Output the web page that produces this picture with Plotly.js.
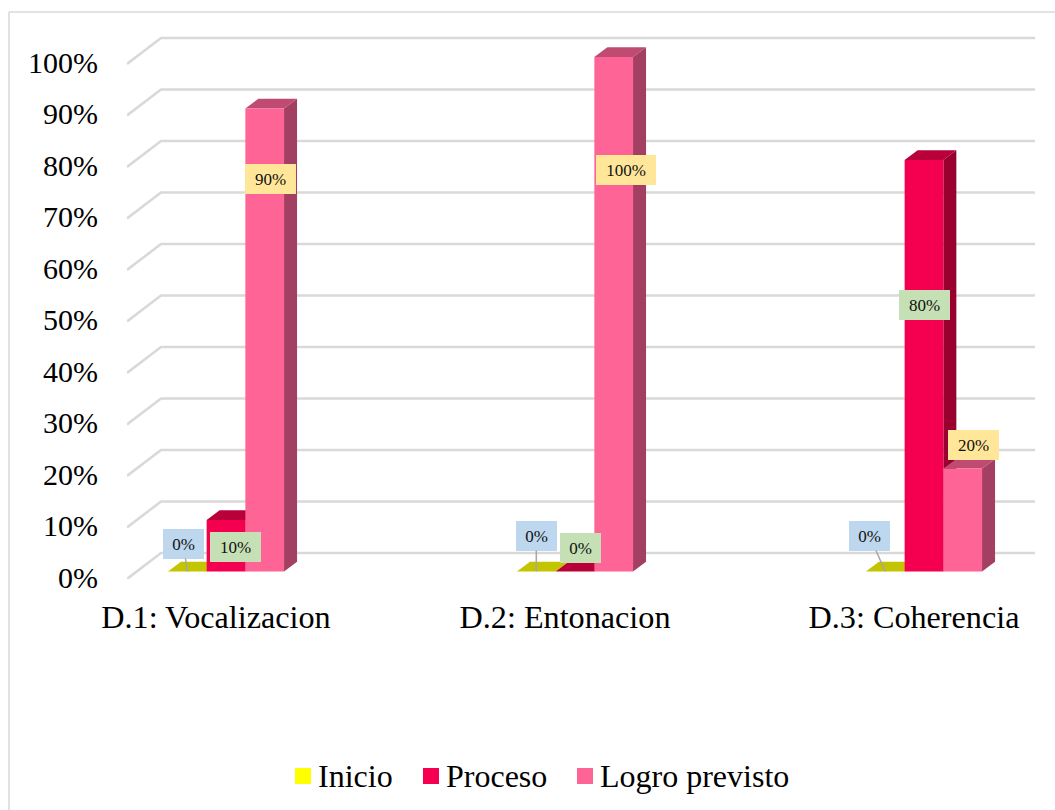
<!DOCTYPE html>
<html><head><meta charset="utf-8">
<script src="https://cdn.plot.ly/plotly-3.0.1.min.js"></script>
<style>html,body{margin:0;padding:0;background:#fff;overflow:hidden}#c{width:1055px;height:810px}</style>
</head><body><div id="c"></div>
<script>
const categories = ["D.1: Vocalizacion", "D.2: Entonacion", "D.3: Coherencia"];
const inicio = [0, 0, 0];
const proceso = [10, 0, 80];
const logro = [90, 100, 20];
const yTicks = [0, 10, 20, 30, 40, 50, 60, 70, 80, 90, 100];

const seriesList = [
  {name: "Inicio", values: inicio, front: "#FFFF00", top: "#C4C400", side: "#A0A000", box: "#BDD7EE", keyLeft: 295},
  {name: "Proceso", values: proceso, front: "#F50050", top: "#B80039", side: "#99002F", box: "#C5E0B4", keyLeft: 423},
  {name: "Logro previsto", values: logro, front: "#FF6496", top: "#BF4B72", side: "#A33F62", box: "#FFE699", keyLeft: 577}
];

// geometry, in pixels of the page
const W = 1055, H = 810;
const plotL = 127, plotR = 1035, plotT = 30, plotB = 579;
const catStep = 349, barPx = 38.7;
const labelCentre0 = 216, barCentre0 = 226;
const frameYPx = 5.15, barYPx = 5.145, barZeroPx = 571.5;
const wallDx = 34, wallDy = 26, barDx = 13, barDy = 9.7;
const tickLabelLift = 0.3;

const xRange = c => [(plotL - c) / catStep, (plotR - c) / catStep];
const frameX = xRange(labelCentre0), barX = xRange(barCentre0);
const frameY = [0, (plotB - plotT) / frameYPx];
const barY = [(barZeroPx - plotB) / barYPx, (barZeroPx - plotT) / barYPx];

const ids = categories.map((_, i) => i);
const barW = barPx / catStep, depthX = barDx / catStep, depthY = barDy / barYPx;
const traces = [];

// back wall and side wall gridlines
const gx = [], gy = [];
yTicks.forEach(t => {
  gx.push(frameX[0], frameX[0] + wallDx / catStep, frameX[1], null);
  gy.push(t, t + wallDy / frameYPx, t + wallDy / frameYPx, null);
});
traces.push({type: "scatter", mode: "lines", x: gx, y: gy, xaxis: "x", yaxis: "y", showlegend: false, hoverinfo: "skip",
  line: {color: "#D9D9D9", width: 2.6}, connectgaps: false});
seriesList.forEach((s, k) => {
  const sx = [], sy = [], tx = [], ty = [];
  ids.forEach(i => {
    const r = i + (k - 1) * barW + barW / 2, l = r - barW, v = s.values[i];
    sx.push(r, r + depthX, r + depthX, r, r, null);
    sy.push(0, depthY, v + depthY, v, 0, null);
    tx.push(l, r, r + depthX, l + depthX, l, null);
    ty.push(v, v, v + depthY, v + depthY, v, null);
  });
  [[sx, sy, s.side], [tx, ty, s.top]].forEach(f => traces.push({
    type: "scatter", mode: "lines", x: f[0], y: f[1], xaxis: "x2", yaxis: "y2", fill: "toself", fillcolor: f[2],
    line: {width: 0, color: f[2]}, showlegend: false, hoverinfo: "skip"}));
});
seriesList.forEach(s => traces.push({
  type: "bar", name: s.name, x: ids, y: s.values, xaxis: "x3", yaxis: "y3", showlegend: false,
  marker: {color: s.front, line: {width: 0}}, hovertemplate: "%{y}%<extra>" + s.name + "</extra>"
}));

// label placement [series, category, xshift, yshift] for plain labels; arrow labels use ax, ay
const plainLabels = [
  [1, 0, 9, -27], [2, 0, 6, -71], [1, 1, 5.5, 23.5], [2, 1, 12, -113], [1, 2, 0, -145], [2, 2, 11, 23.6]
];
const leaderLabels = [[0, 0, -4, -28], [0, 1, 0, -36], [0, 2, -16, -36]];
const fontSerif = "'Liberation Serif','Times New Roman',serif";
const annotations = [];
const labelBase = (k, i) => {
  const v = seriesList[k].values[i], txt = v + "%";
  return {xref: "x3", yref: "y3", x: i + (k - 1) * barW, y: v, text: txt,
    width: txt.length === 4 ? 60 : (txt.length === 3 ? 51 : 41), height: 30,
    bgcolor: seriesList[k].box, borderpad: 0, borderwidth: 0,
    font: {family: fontSerif, size: 17, color: "#111"}, align: "center", valign: "middle"};
};
plainLabels.forEach(p => annotations.push(Object.assign(labelBase(p[0], p[1]), {
  showarrow: false, xanchor: "center", yanchor: "middle", xshift: p[2], yshift: p[3]})));
leaderLabels.forEach(p => annotations.push(Object.assign(labelBase(p[0], p[1]), {
  showarrow: true, arrowhead: 0, arrowwidth: 1.5, arrowcolor: "#A6A6A6", ax: p[2], ay: p[3]})));

const paperX = px => (px - plotL) / (plotR - plotL);
const paperY = px => (plotB - px) / (plotB - plotT);
const border = {color: "#D9D9D9", width: 1.5};

// legend keys and names
const keySize = 16, keyMidY = 776, keyGap = 6;
const shapes = [
  {type: "line", xref: "paper", yref: "paper", x0: paperX(9), x1: paperX(1060), y0: paperY(12), y1: paperY(12), line: border},
  {type: "line", xref: "paper", yref: "paper", x0: paperX(9), x1: paperX(9), y0: paperY(12), y1: paperY(815), line: border}
];
seriesList.forEach(s => {
  shapes.push({type: "rect", xref: "paper", yref: "paper", x0: paperX(s.keyLeft), x1: paperX(s.keyLeft + keySize),
    y0: paperY(keyMidY - keySize / 2), y1: paperY(keyMidY + keySize / 2), fillcolor: s.front, line: {width: 0}});
  annotations.push({xref: "paper", yref: "paper", x: paperX(s.keyLeft + keySize + keyGap), y: paperY(keyMidY), xanchor: "left", yanchor: "middle",
    text: s.name, showarrow: false, borderpad: 0, font: {family: fontSerif, size: 32, color: "#000"}});
});

const hidden = {visible: false, fixedrange: true};
const layout = {
  width: W, height: H, paper_bgcolor: "#fff", plot_bgcolor: "rgba(0,0,0,0)",
  margin: {l: plotL, r: W - plotR, t: plotT, b: H - plotB, pad: 0, autoexpand: false},
  font: {family: fontSerif, color: "#000"},
  barmode: "group", bargap: 1 - 3 * barW, bargroupgap: 0,
  showlegend: false,
  xaxis: {range: frameX, tickmode: "array", tickvals: ids, ticktext: categories, showgrid: false, zeroline: false, showline: false,
    ticks: "", ticklabelstandoff: 16, tickfont: {family: fontSerif, size: 32.2, color: "#000"}, fixedrange: true},
  yaxis: {range: frameY, tickmode: "array", tickvals: yTicks.map(t => t + tickLabelLift), ticktext: yTicks.map(t => t + "%"), showgrid: false, zeroline: false, showline: false,
    ticks: "", ticklabelstandoff: 28, tickfont: {family: fontSerif, size: 30, color: "#000"}, fixedrange: true},
  xaxis2: Object.assign({range: barX, overlaying: "x"}, hidden),
  yaxis2: Object.assign({range: barY, overlaying: "y"}, hidden),
  xaxis3: Object.assign({range: barX, overlaying: "x"}, hidden),
  yaxis3: Object.assign({range: barY, overlaying: "y"}, hidden),
  annotations: annotations,
  shapes: shapes
};
Plotly.newPlot("c", traces, layout, {displayModeBar: false, staticPlot: true});
</script></body></html>
